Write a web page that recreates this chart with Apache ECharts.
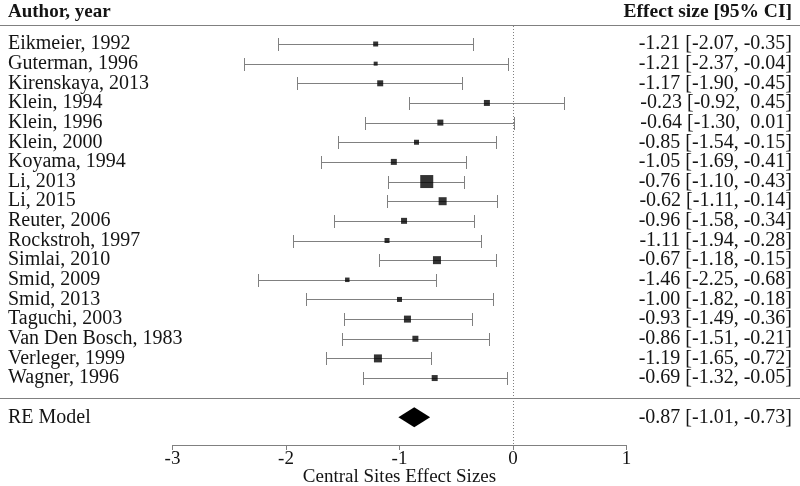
<!DOCTYPE html>
<html>
<head>
<meta charset="utf-8">
<script src="https://cdn.jsdelivr.net/npm/echarts@6/dist/echarts.min.js"></script>
<style>html,body{margin:0;padding:0;background:#fff}#c{width:800px;height:486px}</style>
</head>
<body>
<div id="c"></div>
<script>
const studies = ["Eikmeier, 1992","Guterman, 1996","Kirenskaya, 2013","Klein, 1994","Klein, 1996","Klein, 2000","Koyama, 1994","Li, 2013","Li, 2015","Reuter, 2006","Rockstroh, 1997","Simlai, 2010","Smid, 2009","Smid, 2013","Taguchi, 2003","Van Den Bosch, 1983","Verleger, 1999","Wagner, 1996"];
const estimates = [-1.21,-1.21,-1.17,-0.23,-0.64,-0.85,-1.05,-0.76,-0.62,-0.96,-1.11,-0.67,-1.46,-1.00,-0.93,-0.86,-1.19,-0.69];
const lower = [-2.07,-2.37,-1.90,-0.92,-1.30,-1.54,-1.69,-1.10,-1.11,-1.58,-1.94,-1.18,-2.25,-1.82,-1.49,-1.51,-1.65,-1.32];
const upper = [-0.35,-0.04,-0.45,0.45,0.01,-0.15,-0.41,-0.43,-0.14,-0.34,-0.28,-0.15,-0.68,-0.18,-0.36,-0.21,-0.72,-0.05];
const weights = [5,4,6,6,6,5,6,13,8,6,5,8,4.5,5,7,6,8,6];
const pooledLabel = "RE Model";
const pooled = {est: -0.87, lo: -1.01, hi: -0.73};
const xTicks = [-3,-2,-1,0,1];
const xTitle = "Central Sites Effect Sizes";
const headerLeft = "Author, year";
const headerRight = "Effect size [95% CI]";

const FONT = "'Liberation Serif','Times New Roman',serif";
const TXT = '#141414';
const GRAY = '#808080';
const pooledRow = studies.length + 1;

function fmt(e, l, h) {
  return e.toFixed(2) + ' [' + l.toFixed(2) + ', ' + (h >= 0 ? ' ' : '') + h.toFixed(2) + ']';
}

const rowsData = studies.map((s, i) => [lower[i], upper[i], i]);
const boxData = studies.map((s, i) => [estimates[i], i, weights[i]]);
const textData = studies.map((s, i) => ({value: [0, i], left: s, right: fmt(estimates[i], lower[i], upper[i])}));
textData.push({value: [0, pooledRow], left: pooledLabel, right: fmt(pooled.est, pooled.lo, pooled.hi)});

const chart = echarts.init(document.getElementById('c'), null, {renderer: 'canvas'});
const W = 800;
chart.setOption({
  animation: false,
  grid: {left: 172.5, width: 454, top: 26, bottom: 41, containLabel: false, outerBoundsMode: 'none'},
  xAxis: {
    type: 'value', min: xTicks[0], max: xTicks[xTicks.length - 1], interval: 1,
    splitLine: {show: false},
    axisLine: {show: true, onZero: false, lineStyle: {color: GRAY, width: 1}},
    axisTick: {show: true, length: 5, lineStyle: {color: GRAY}},
    axisLabel: {color: TXT, fontFamily: FONT, fontSize: 19, margin: 5},
    name: xTitle, nameLocation: 'middle', nameGap: 23, nameMoveOverlap: false,
    nameTextStyle: {color: TXT, fontFamily: FONT, fontSize: 19}
  },
  yAxis: {type: 'value', inverse: true, min: -0.916, max: 20.407, show: false},
  graphic: [
    {type: 'line', shape: {x1: 0, y1: 25.5, x2: W, y2: 25.5}, style: {stroke: GRAY, lineWidth: 1}},
    {type: 'line', shape: {x1: 0, y1: 398.5, x2: W, y2: 398.5}, style: {stroke: GRAY, lineWidth: 1}},
    {type: 'text', x: 8, y: 12, style: {text: headerLeft, fill: TXT, font: 'bold 19px ' + FONT, textAlign: 'left', textVerticalAlign: 'middle'}},
    {type: 'text', x: 792, y: 12, style: {text: headerRight, fill: TXT, font: 'bold 19.5px ' + FONT, textAlign: 'right', textVerticalAlign: 'middle'}}
  ],
  series: [
    {
      type: 'custom', name: 'ci',
      data: rowsData,
      encode: {x: [0, 1], y: 2},
      renderItem: function (params, api) {
        const a = api.coord([api.value(0), api.value(2)]);
        const b = api.coord([api.value(1), api.value(2)]);
        const y = Math.round(a[1]) + 0.5;
        const ax = Math.round(a[0]) + 0.5, bx = Math.round(b[0]) + 0.5;
        const st = {stroke: GRAY, lineWidth: 1};
        return {type: 'group', children: [
          {type: 'line', shape: {x1: ax, y1: y, x2: bx, y2: y}, style: st},
          {type: 'line', shape: {x1: ax, y1: y - 6.5, x2: ax, y2: y + 6.5}, style: st},
          {type: 'line', shape: {x1: bx, y1: y - 6.5, x2: bx, y2: y + 6.5}, style: st}
        ]};
      },
      markLine: {
        silent: true, symbol: 'none', label: {show: false},
        lineStyle: {type: [1, 2], color: GRAY, width: 1},
        data: [{xAxis: 0}]
      },
      z: 2
    },
    {
      type: 'scatter', name: 'est', data: boxData,
      symbol: 'rect',
      symbolSize: function (v) { return v[2]; },
      itemStyle: {color: '#000'},
      z: 3
    },
    {
      type: 'custom', name: 'pooled',
      data: [[pooled.lo, pooled.hi, pooled.est, pooledRow]],
      encode: {x: [0, 1, 2], y: 3},
      renderItem: function (params, api) {
        const r = api.value(3);
        const l = api.coord([api.value(0), r]);
        const h = api.coord([api.value(1), r]);
        const e = api.coord([api.value(2), r]);
        const hh = 10;
        return {type: 'polygon', shape: {points: [[l[0], l[1]], [e[0], e[1] - hh], [h[0], h[1]], [e[0], e[1] + hh]]}, style: {fill: '#000'}};
      },
      z: 3
    },
    {
      type: 'custom', name: 'text',
      data: textData,
      encode: {x: 0, y: 1},
      renderItem: function (params, api) {
        const d = textData[params.dataIndex];
        const y = api.coord([0, api.value(1)])[1];
        return {type: 'group', children: [
          {type: 'text', x: 8, y: y, style: {text: d.left, fill: TXT, font: '20px ' + FONT, textAlign: 'left', textVerticalAlign: 'middle'}},
          {type: 'text', x: 792, y: y, style: {text: d.right, fill: TXT, font: '20px ' + FONT, textAlign: 'right', textVerticalAlign: 'middle'}}
        ]};
      },
      z: 4
    }
  ]
});
</script>
</body>
</html>
